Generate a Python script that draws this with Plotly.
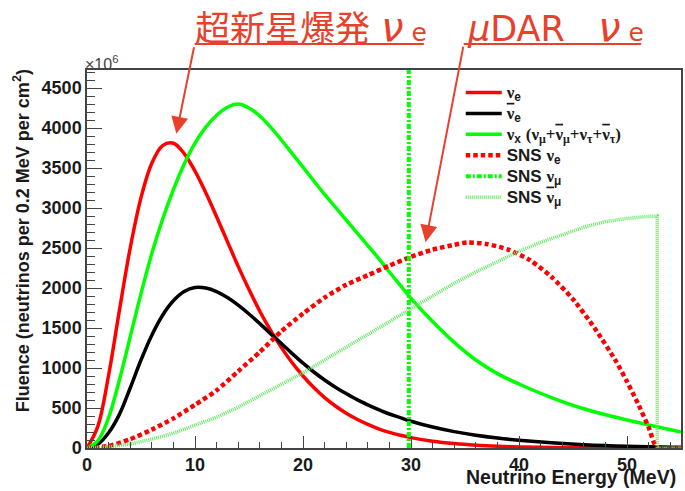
import plotly.graph_objects as go

# ---- Supernova neutrino spectra (fluence per 0.2 MeV per cm^2, units of 1e6) ----
sn_energy = [0, 1, 2, 3, 4, 5, 6, 7, 8, 9, 10, 11, 12, 13, 14, 15, 16, 17, 18, 19, 20,
             21, 22, 23, 24, 25, 26, 27, 28, 29, 30, 32, 34, 36, 38, 40, 43, 46, 50, 55]
sn_nue = [0, 270, 910, 1720, 2500, 3130, 3560, 3780, 3810, 3680, 3460, 3190, 2890, 2580,
          2270, 1980, 1710, 1470, 1255, 1065, 900, 755, 630, 525, 435, 360, 295, 240, 195,
          160, 130, 85, 55, 35, 22, 14, 7, 3, 1, 0]
sn_nuebar = [0, 45, 190, 420, 750, 1100, 1410, 1660, 1840, 1955, 2005, 2000, 1955, 1880,
             1785, 1675, 1555, 1430, 1305, 1180, 1060, 950, 850, 760, 680, 605, 540, 480,
             425, 380, 335, 262, 205, 160, 125, 97, 65, 42, 23, 10]
sn_nux = [0, 90, 380, 850, 1390, 1930, 2430, 2860, 3230, 3550, 3810, 4010, 4160, 4260,
          4300, 4250, 4150, 4010, 3850, 3680, 3510, 3340, 3170, 3010, 2850, 2690, 2530,
          2370, 2200, 2035, 1870, 1580, 1320, 1100, 930, 800, 630, 490, 350, 200]

# ---- SNS (muon decay-at-rest) spectra ----
sns_energy = [0, 2, 4, 6, 8, 10, 12, 14, 16, 18, 20, 22, 24, 26, 28, 30, 32, 34, 35.2,
              37, 39, 41, 43, 45, 47, 49, 50, 51, 52, 52.8, 55]
sns_nue = [0, 25, 110, 230, 370, 540, 720, 960, 1200, 1460, 1680, 1880, 2040, 2160, 2280,
           2390, 2480, 2540, 2570, 2550, 2480, 2350, 2140, 1860, 1500, 1080, 830, 560, 260,
           0, 0]

sns_bar_energy = [0, 2, 4, 6, 8, 10, 12, 14, 16, 18, 20, 22, 24, 26, 28, 30, 32, 34, 36,
                  38, 40, 42, 44, 46, 48, 50, 52, 52.8, 52.8, 55]
sns_numubar = [0, 15, 50, 110, 185, 280, 385, 510, 650, 790, 940, 1100, 1260, 1430, 1590,
               1750, 1910, 2060, 2200, 2330, 2460, 2570, 2670, 2760, 2830, 2870, 2895, 2900,
               0, 0]

# monoenergetic nu_mu line from pion decay at rest (off scale)
sns_numu_energy = [29.8, 29.8]
sns_numu = [0, 380000]

x_ticks = [0, 10, 20, 30, 40, 50]
y_ticks = [0, 500, 1000, 1500, 2000, 2500, 3000, 3500, 4000, 4500]

RED = "#ff0000"
GREEN = "#00ff00"
PALE_GREEN = "rgb(100,232,100)"
SERIF = "font-family:Liberation Serif"
NU = f'<span style="{SERIF}">ν</span>'
NUBAR = f'<span style="{SERIF};text-decoration:overline">ν</span>'


def big(label):
    return f'<span style="font-size:17px">{label}</span>'


legend_names = [
    big(f"{NU}<sub>e</sub>"),
    big(f"{NUBAR}<sub>e</sub>"),
    big(f'{NU}<sub>x</sub> <span style="{SERIF}">({NU}<sub>μ</sub>+{NUBAR}<sub>μ</sub>'
        f'+{NU}<sub>τ</sub>+{NUBAR}<sub>τ</sub>)</span>'),
    big(f"SNS {NU}<sub>e</sub>"),
    big(f"SNS {NU}<sub>μ</sub>"),
    big(f"SNS {NUBAR}<sub>μ</sub>"),
]

fig = go.Figure()
fig.add_trace(go.Scatter(x=sn_energy, y=sn_nue, mode="lines", name=legend_names[0],
                         line=dict(color=RED, width=3.5, shape="spline", smoothing=1)))
fig.add_trace(go.Scatter(x=sn_energy, y=sn_nuebar, mode="lines", name=legend_names[1],
                         line=dict(color="black", width=3.5, shape="spline", smoothing=1)))
fig.add_trace(go.Scatter(x=sn_energy, y=sn_nux, mode="lines", name=legend_names[2],
                         line=dict(color=GREEN, width=3.5, shape="spline", smoothing=1)))
fig.add_trace(go.Scatter(x=sns_energy, y=sns_nue, mode="lines", name=legend_names[3],
                         line=dict(color=RED, width=4.5, dash="4.5px,3px",
                                   shape="spline", smoothing=0.6)))
fig.add_trace(go.Scatter(x=sns_numu_energy, y=sns_numu, mode="lines", name=legend_names[4],
                         line=dict(color=GREEN, width=4, dash="5px,2px,2px,2px")))
fig.add_trace(go.Scatter(x=sns_bar_energy, y=sns_numubar, mode="lines", name=legend_names[5],
                         line=dict(color=PALE_GREEN, width=3.5, dash="1px,1px")))

for i, tr in enumerate(fig.data):
    tr.legendgroup = f"g{i}"

axis_font = dict(family="Liberation Sans", size=18, color="#1a1a1a", weight="bold")

fig.update_xaxes(range=[0, 55], tickvals=x_ticks, ticks="inside", ticklen=12, tickwidth=1.3,
                 tickcolor="#444", showline=True, linecolor="#444", linewidth=1.5, mirror=True,
                 showgrid=False, zeroline=False, tickfont=axis_font,
                 minor=dict(ticks="inside", dtick=2, ticklen=6, tickcolor="#444", showgrid=False))
fig.update_yaxes(range=[0, 4725], tickvals=y_ticks, ticks="inside", ticklen=15, tickwidth=1.3,
                 tickcolor="#444", showline=True, linecolor="#444", linewidth=1.5, mirror=True,
                 showgrid=False, zeroline=False, tickfont=axis_font,
                 minor=dict(ticks="inside", dtick=100, ticklen=8, tickcolor="#444", showgrid=False))

W, H = 685, 491
L, R, T, B = 87, 2, 70, 43


def px(xp):
    return (xp - L) / (W - L - R)


def py(yp):
    return (H - B - yp) / (H - T - B)


ann_color = "#e8402a"
jp_font = dict(family="DejaVu Sans, Noto Sans CJK JP", size=35, color=ann_color)
nu_big = '<i><span style="font-size:40px">ν</span></i>'
small_e = '<span style="font-size:25px"> e</span>'

annotations = [
    dict(text="×10<sup>6</sup>", xref="paper", yref="paper", x=px(83), y=py(63),
         xanchor="left", yanchor="middle", showarrow=False,
         font=dict(family="Liberation Sans", size=16, color="#444")),
    dict(text="Neutrino Energy (MeV)", xref="paper", yref="paper", x=px(465), y=py(477),
         xanchor="left", yanchor="middle", showarrow=False,
         font=dict(family="Liberation Sans", size=19.5, color="#1a1a1a", weight="bold")),
    dict(text="Fluence (neutrinos per 0.2 MeV per cm<sup>2</sup>)", xref="paper", yref="paper",
         x=px(22), y=py(241), textangle=-90, xanchor="center", yanchor="middle",
         showarrow=False,
         font=dict(family="Liberation Sans", size=18, color="#1a1a1a", weight="bold")),
    dict(text=f"超新星爆発 {nu_big}{small_e}", xref="paper", yref="paper", x=px(193), y=py(27),
         xanchor="left", yanchor="middle", showarrow=False, font=jp_font),
    dict(text=f"<i>μ</i>DAR   {nu_big}{small_e}", xref="paper", yref="paper", x=px(466),
         y=py(27), xanchor="left", yanchor="middle", showarrow=False, font=jp_font),
    # leader arrows from the underlined labels to the spectra
    dict(text="", xref="x", yref="y", x=8.27, y=3928, ax=18, ay=-88, axref="pixel",
         ayref="pixel", showarrow=True, arrowhead=2, arrowsize=1.7, arrowwidth=2,
         arrowcolor=ann_color),
    dict(text="", xref="x", yref="y", x=31.35, y=2573, ax=38, ay=-197, axref="pixel",
         ayref="pixel", showarrow=True, arrowhead=2, arrowsize=1.7, arrowwidth=2,
         arrowcolor=ann_color),
]

shapes = [
    dict(type="line", xref="paper", yref="paper", x0=px(195), x1=px(425), y0=py(44), y1=py(44),
         line=dict(color=ann_color, width=2)),
    dict(type="line", xref="paper", yref="paper", x0=px(465), x1=px(643), y0=py(44), y1=py(44),
         line=dict(color=ann_color, width=2)),
]

fig.update_layout(
    width=W, height=H, autosize=False,
    margin=dict(l=L, r=R, t=T, b=B, pad=0),
    paper_bgcolor="white", plot_bgcolor="white",
    showlegend=True,
    legend=dict(x=px(462), y=py(77), xanchor="left", yanchor="top",
                bgcolor="rgba(255,255,255,0)", borderwidth=0, tracegroupgap=0,
                itemwidth=36,
                font=dict(family="Liberation Sans", size=13.8, color="#1a1a1a", weight="bold")),
    annotations=annotations,
    shapes=shapes,
)

fig.write_html("out.html")
